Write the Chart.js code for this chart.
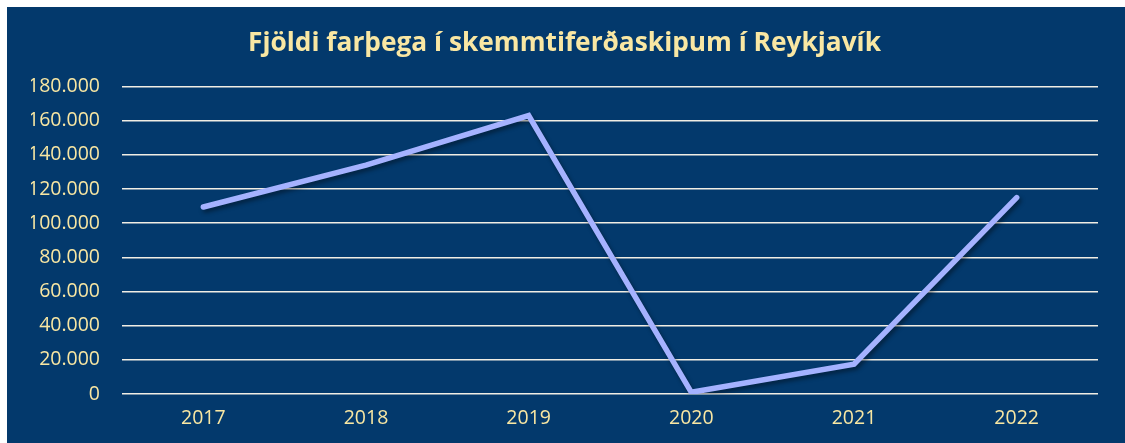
<!DOCTYPE html>
<html>
<head>
<meta charset="utf-8">
<script src="https://cdn.jsdelivr.net/npm/chart.js@4"></script>
<style>
  html,body{margin:0;padding:0;background:#fff;}
  #wrap{position:absolute;left:7px;top:7px;width:1118px;height:436px;background:#03396c;}
</style>
</head>
<body>
<div id="wrap"><canvas id="c" width="1118" height="436"></canvas></div>
<script>
const years = ['2017','2018','2019','2020','2021','2022'];
const passengers = [109500, 134000, 163000, 1000, 17500, 115000];
const titleText = 'Fjöldi farþega í skemmtiferðaskipum í Reykjavík';

const cream = '#f9e7a3';
const fmt = v => String(v).replace(/\B(?=(\d{3})+(?!\d))/g, '.');

// drop shadow under the line
const lineShadow = {
  id: 'lineShadow',
  beforeDatasetsDraw(chart){ const c=chart.ctx; c.save(); c.shadowColor='rgba(0,0,0,0.4)'; c.shadowBlur=4; c.shadowOffsetX=2; c.shadowOffsetY=3; },
  afterDatasetsDraw(chart){ chart.ctx.restore(); }
};

new Chart(document.getElementById('c'), {
  type: 'line',
  data: { labels: years, datasets: [{
    data: passengers, borderColor: '#a5b2ff', borderWidth: 5.5, pointRadius: 0,
    tension: 0, fill: false, borderJoinStyle: 'miter', borderCapStyle: 'round'
  }]},
  options: {
    responsive: false, animation: false,
    layout: { padding: { left: 24, right: 27, top: 0, bottom: 0 } },
    plugins: {
      legend: { display: false }, tooltip: { enabled: false },
      title: { display: true, text: titleText, color: cream,
        font: { family: 'Open Sans', size: 26.3, weight: 'bold' },
        padding: { top: 21, bottom: 27 } }
    },
    scales: {
      x: {
        offset: true,
        grid: { display: false, drawTicks: false },
        border: { display: false },
        ticks: { color: cream, padding: 13, font: { family: 'Open Sans', size: 19.5 } },
        afterFit(s){ s.height = 49; }
      },
      y: {
        min: 0, max: 180000,
        grid: { color: '#f1eee4', lineWidth: 1.5, drawTicks: false },
        border: { display: false },
        ticks: { stepSize: 20000, color: cream, padding: 22,
          font: { family: 'Open Sans', size: 19.5 }, callback: v => fmt(v) },
        afterFit(s){ s.width = 91; }
      }
    }
  },
  plugins: [lineShadow]
});
</script>
</body>
</html>
